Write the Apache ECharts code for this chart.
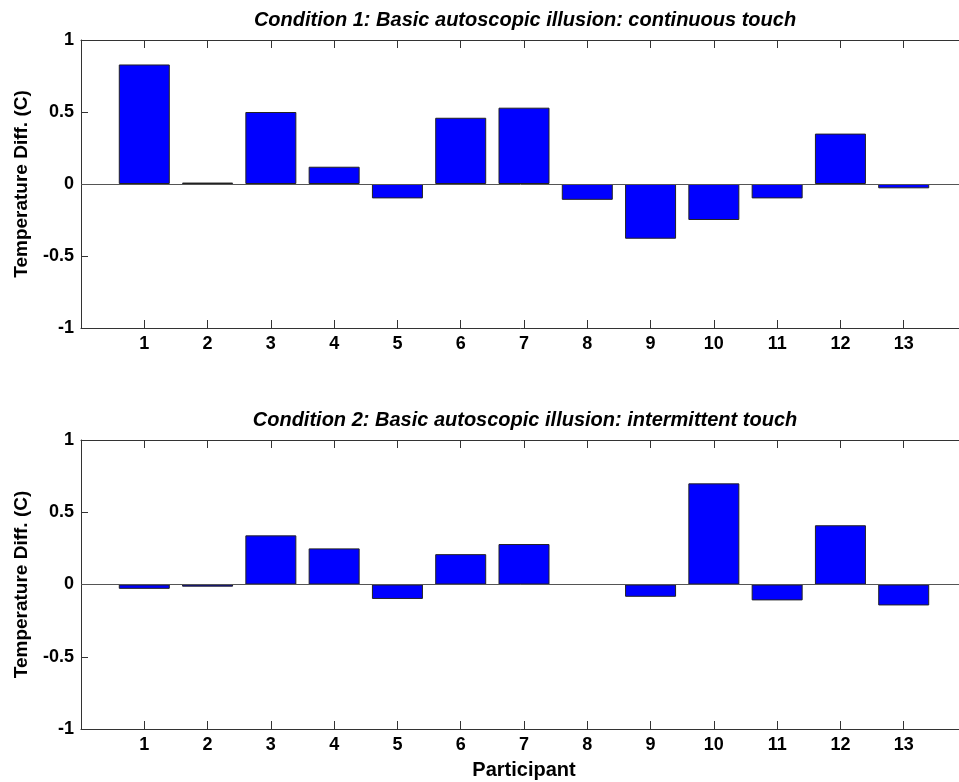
<!DOCTYPE html>
<html>
<head>
<meta charset="utf-8">
<script src="https://cdn.jsdelivr.net/npm/echarts@6/dist/echarts.min.js"></script>
<style>html,body{margin:0;padding:0;background:#fff;}#c{width:959px;height:782px;}</style>
</head>
<body>
<div id="c"></div>
<script>
var participants = [1,2,3,4,5,6,7,8,9,10,11,12,13];
var cond1Values = [0.83, 0.01, 0.50, 0.12, -0.10, 0.46, 0.53, -0.11, -0.38, -0.25, -0.10, 0.35, -0.03];
var cond2Values = [-0.03, -0.015, 0.34, 0.25, -0.10, 0.21, 0.28, 0, -0.085, 0.70, -0.11, 0.41, -0.145];
var yTicks = [-1, -0.5, 0, 0.5, 1];
var titles = ['Condition 1: Basic autoscopic illusion: continuous touch', 'Condition 2: Basic autoscopic illusion: intermittent touch'];
var yName = 'Temperature Diff. (C)';
var xName = 'Participant';

var FONT = "'Liberation Sans', Arial, sans-serif";
var AX = '#333';
var chart = echarts.init(document.getElementById('c'));
var grids = [
  {left: 81, width: 886, top: 40, height: 288, outerBoundsMode: 'none', containLabel: false},
  {left: 81, width: 886, top: 440, height: 289, outerBoundsMode: 'none', containLabel: false}
];
function xAxes(g, withName) {
  var base = {
    type: 'value', gridIndex: g, min: 0, max: 14, interval: 1,
    splitLine: {show: false},
    axisLine: {show: true, onZero: false, lineStyle: {color: AX, width: 1}},
    axisTick: {show: true, inside: true, length: 8, lineStyle: {color: AX}}
  };
  var bottom = Object.assign({}, base, {
    position: 'bottom',
    axisLabel: {show: true, fontFamily: FONT, fontWeight: 'bold', fontSize: 18, color: '#000', margin: 7,
      formatter: function (v) { return participants.indexOf(v) >= 0 ? String(v) : ''; }}
  });
  if (withName) {
    bottom.name = xName; bottom.nameLocation = 'middle'; bottom.nameGap = 31;
    bottom.nameTextStyle = {fontFamily: FONT, fontWeight: 'bold', fontSize: 20, color: '#000'};
  }
  var top = Object.assign({}, base, {position: 'top', axisLabel: {show: false}});
  return [bottom, top];
}
function yAxes(g) {
  var base = {
    type: 'value', gridIndex: g, min: yTicks[0], max: yTicks[yTicks.length - 1], interval: 0.5,
    splitLine: {show: false},
    axisLine: {show: true, onZero: false, lineStyle: {color: AX, width: 1}},
    axisTick: {show: true, inside: true, length: 7, lineStyle: {color: AX}}
  };
  var left = Object.assign({}, base, {
    position: 'left',
    axisLabel: {show: true, fontFamily: FONT, fontWeight: 'bold', fontSize: 18, color: '#000', margin: 7},
    name: yName, nameLocation: 'middle', nameGap: 50,
    nameTextStyle: {fontFamily: FONT, fontWeight: 'bold', fontSize: 19, color: '#000'}
  });
  var right = Object.assign({}, base, {position: 'right', axisLabel: {show: false}});
  return [left, right];
}
function barSeries(values, g) {
  return {
    type: 'bar', xAxisIndex: g * 2, yAxisIndex: g * 2, barWidth: 51,
    data: participants.map(function (p, i) { return [p, values[i]]; }),
    itemStyle: {color: '#0000FF', borderColor: '#222', borderWidth: 1},
    emphasis: {disabled: true},
    markLine: {silent: true, symbol: 'none', label: {show: false},
      lineStyle: {color: '#555', type: 'solid', width: 1}, data: [{yAxis: 0}]},
    z: 3
  };
}
chart.setOption({
  animation: false,
  title: [
    {text: titles[0], left: 520, top: 5, textAlign: 'center',
      textStyle: {fontFamily: FONT, fontWeight: 'bold', fontStyle: 'italic', fontSize: 20, color: '#000'}},
    {text: titles[1], left: 520, top: 405, textAlign: 'center',
      textStyle: {fontFamily: FONT, fontWeight: 'bold', fontStyle: 'italic', fontSize: 20, color: '#000'}}
  ],
  grid: grids,
  xAxis: xAxes(0, false).concat(xAxes(1, true)),
  yAxis: yAxes(0).concat(yAxes(1)),
  series: [barSeries(cond1Values, 0), barSeries(cond2Values, 1)]
});
</script>
</body>
</html>
